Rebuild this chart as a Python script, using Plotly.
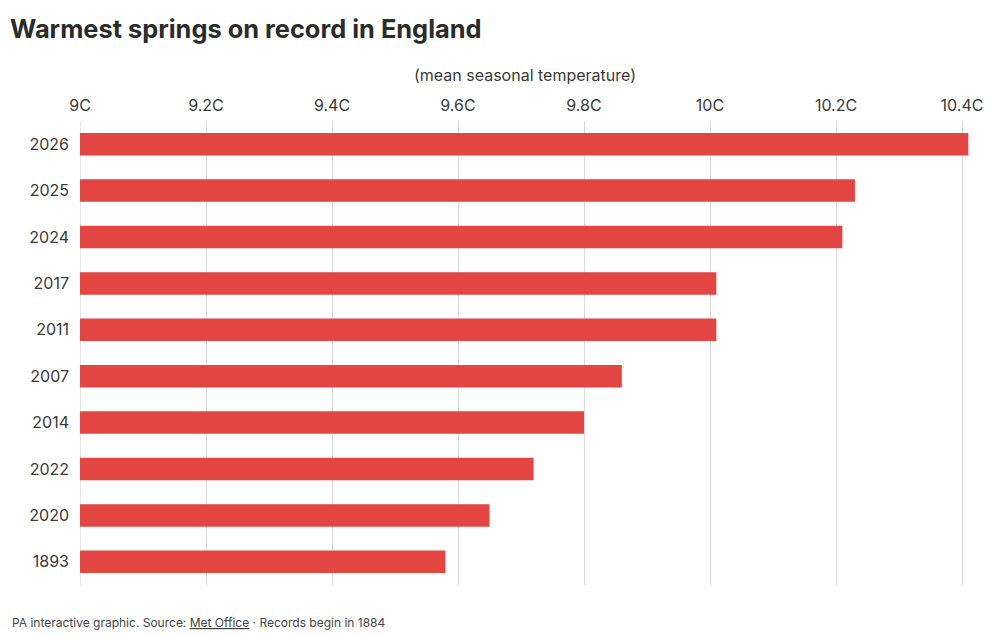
import plotly.graph_objects as go

years = ["2026", "2025", "2024", "2017", "2011", "2007", "2014", "2022", "2020", "1893"]
temps = [10.41, 10.23, 10.21, 10.01, 10.01, 9.86, 9.80, 9.72, 9.65, 9.58]
tick_vals = [9.0, 9.2, 9.4, 9.6, 9.8, 10.0, 10.2, 10.4]
tick_text = ["9C", "9.2C", "9.4C", "9.6C", "9.8C", "10C", "10.2C", "10.4C"]

FONT = "Inter, Roboto, sans-serif"

fig = go.Figure(go.Bar(
    x=temps, y=years, orientation="h",
    marker=dict(color="#e24542", line=dict(width=0)),
    hoverinfo="x+y",
))

fig.update_layout(
    width=1000, height=637,
    margin=dict(l=80, r=30, t=121, b=52),
    paper_bgcolor="white", plot_bgcolor="white",
    bargap=0.515,
    showlegend=False,
    font=dict(family=FONT, color="#333333"),
    title=dict(
        text="<b>Warmest springs on record in England</b>",
        x=0.01, xanchor="left", y=0.955, yanchor="middle",
        font=dict(size=25.4, family=FONT, color="#2b2b2b"),
    ),
    xaxis=dict(
        side="top",
        range=[9.0, 9.0 + 890 / 630],
        tickvals=tick_vals, ticktext=tick_text,
        tickfont=dict(size=16, color="#3a3a3a", family=FONT),
        showgrid=True, gridcolor="#d9d9d9", gridwidth=1,
        zeroline=False, showline=False, ticks="",
        ticklabelstandoff=6,
        title=dict(text="(mean seasonal temperature)", font=dict(size=16, color="#3a3a3a", family=FONT), standoff=9),
        fixedrange=True,
    ),
    yaxis=dict(
        categoryorder="array", categoryarray=years[::-1],
        tickfont=dict(size=16, color="#3a3a3a", family=FONT),
        showgrid=False, zeroline=False, ticks="",
        showline=False,
        ticklabelstandoff=10,
        fixedrange=True,
    ),
)

# baseline at 9C
fig.add_shape(type="line", xref="x", yref="paper", x0=9.0, x1=9.0, y0=0, y1=1,
              line=dict(color="#cfcfcf", width=1), layer="below")

plot_w = 1000 - 80 - 30
plot_h = 637 - 121 - 52
fig.add_annotation(
    text='PA interactive graphic. Source: <u>Met Office</u> · Records begin in 1884',
    xref="paper", yref="paper", x=(10 - 80) / plot_w, y=(637 - 52 - 622) / plot_h,
    xanchor="left", yanchor="middle",
    showarrow=False, font=dict(size=12, color="#444444", family=FONT),
)

fig.write_html("out.html")
